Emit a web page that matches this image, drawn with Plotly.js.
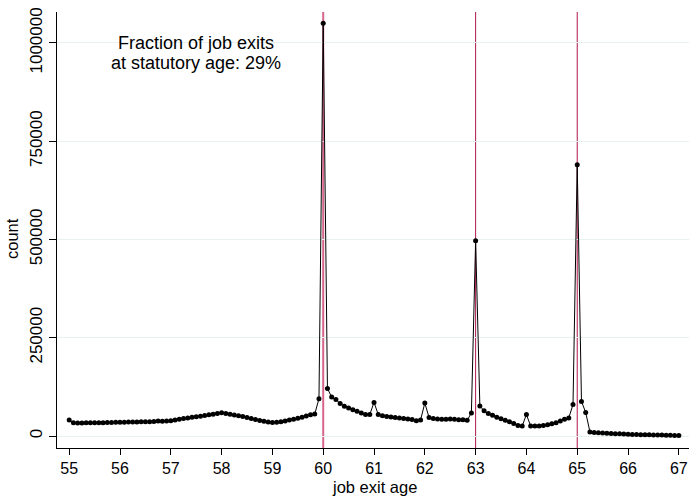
<!DOCTYPE html>
<html>
<head>
<meta charset="utf-8">
<script src="https://cdn.plot.ly/plotly-3.0.1.min.js"></script>
<style>
  html, body { margin: 0; padding: 0; background: #ffffff; }
  #chart { width: 690px; height: 497px; }
</style>
</head>
<body>
<div id="chart"></div>
<script>
// ---- data ----
const startAge = 55;          // first age shown (monthly steps)
const monthsPerYear = 12;
const counts = [
  // age 55
  41000, 33500, 33000, 33000, 33500, 33500, 34000, 34000, 34000, 34500, 34500, 35000,
  // age 56
  35000, 35000, 35500, 35500, 35500, 36000, 36000, 36500, 37000, 38000, 37500, 38500,
  // age 57
  39000, 40500, 42500, 44500, 46000, 47500, 49000, 50500, 52000, 54000, 55500, 57000,
  // age 58
  59000, 57500, 55500, 53500, 51500, 49500, 47000, 44500, 42000, 39500, 37500, 35500,
  // age 59
  34500, 35000, 36500, 38500, 40500, 42500, 45000, 48000, 51000, 54000, 56000, 95000,
  // age 60
  1050000, 121000, 99000, 93000, 82500, 76000, 71500, 67000, 63000, 58500, 55000, 54500,
  // age 61
  85500, 54500, 51500, 49500, 48500, 47000, 46000, 44500, 43000, 42000, 39000, 41000,
  // age 62
  84000, 47000, 44500, 43500, 42500, 42500, 43500, 42500, 41500, 41500, 40000, 58500,
  // age 63
  497000, 76500, 64000, 57500, 52500, 48000, 44000, 40000, 36000, 32000, 27000, 25500,
  // age 64
  54500, 25500, 25500, 25500, 26500, 28500, 31500, 34000, 38000, 42500, 46000, 80000,
  // age 65
  690000, 88000, 60000, 10500, 9000, 8000, 7500, 7000, 6500, 6000, 5500, 5000,
  // age 66
  4500, 4000, 3800, 3500, 3200, 3000, 2800, 2500, 2300, 2000, 1800, 1600,
  // age 67
  1500
];
const ages = counts.map((_, i) => startAge + i / monthsPerYear);
const statutoryAges = [60, 63, 65];
const xTicks = [55, 56, 57, 58, 59, 60, 61, 62, 63, 64, 65, 66, 67];
const yTicks = [0, 250000, 500000, 750000, 1000000];
const noteLines = ["Fraction of job exits", "at statutory age: 29%"];
const xTitle = "job exit age";
const yTitle = "count";

// ---- styles ----
const FONT = "Liberation Sans, Arial, Helvetica, sans-serif";
const refColors = ["#d4668a", "#b0174b", "#b0174b"];
const refWidths = [2, 1, 1];

const trace = {
  x: ages,
  y: counts,
  type: "scatter",
  mode: "lines+markers",
  line: { color: "#000000", width: 1 },
  marker: { color: "#000000", size: 5 },
  hoverinfo: "x+y",
  showlegend: false
};

const shapes = statutoryAges.map((a, i) => ({
  type: "line", xref: "x", yref: "paper",
  x0: a, x1: a, y0: 0, y1: 1,
  line: { color: refColors[i], width: refWidths[i] },
  layer: "below"
}));

const annotations = [
  { text: noteLines[0], x: 57.5, y: 1000000, xref: "x", yref: "y",
    showarrow: false, xanchor: "center", yanchor: "middle",
    font: { family: FONT, size: 18, color: "#000" } },
  { text: noteLines[1], x: 57.5, y: 949000, xref: "x", yref: "y",
    showarrow: false, xanchor: "center", yanchor: "middle",
    font: { family: FONT, size: 18, color: "#000" } },
  { text: xTitle, x: 0.5016, y: -0.0895, xref: "paper", yref: "paper",
    showarrow: false, xanchor: "center", yanchor: "middle",
    font: { family: FONT, size: 16.5, color: "#000" } },
  { text: yTitle, x: -0.0712, y: 0.4794, xref: "paper", yref: "paper",
    showarrow: false, xanchor: "center", yanchor: "middle", textangle: -90,
    font: { family: FONT, size: 16.5, color: "#000" } }
];

const layout = {
  width: 690, height: 497,
  margin: { l: 57, r: 1, t: 12, b: 49, pad: 0 },
  paper_bgcolor: "#ffffff",
  plot_bgcolor: "#ffffff",
  font: { family: FONT, size: 16, color: "#000" },
  showlegend: false,
  xaxis: {
    range: [54.76, 67.2],
    tickvals: xTicks,
    ticktext: xTicks.map(String),
    showgrid: false, zeroline: false,
    showline: true, linecolor: "#000", linewidth: 1,
    ticks: "outside", ticklen: 6, tickcolor: "#000", tickwidth: 1,
    tickfont: { family: FONT, size: 16, color: "#000" }
  },
  yaxis: {
    range: [-30500, 1078700],
    tickvals: yTicks,
    ticktext: yTicks.map(String),
    tickangle: -90,
    showgrid: true, gridcolor: "#e8f0f2", gridwidth: 1,
    zeroline: false,
    showline: true, linecolor: "#000", linewidth: 1,
    ticks: "outside", ticklen: 7, tickcolor: "#000", tickwidth: 1,
    tickfont: { family: FONT, size: 17, color: "#000" }
  },
  shapes: shapes,
  annotations: annotations
};

Plotly.newPlot("chart", [trace], layout, { displayModeBar: false, staticPlot: true });
</script>
</body>
</html>
